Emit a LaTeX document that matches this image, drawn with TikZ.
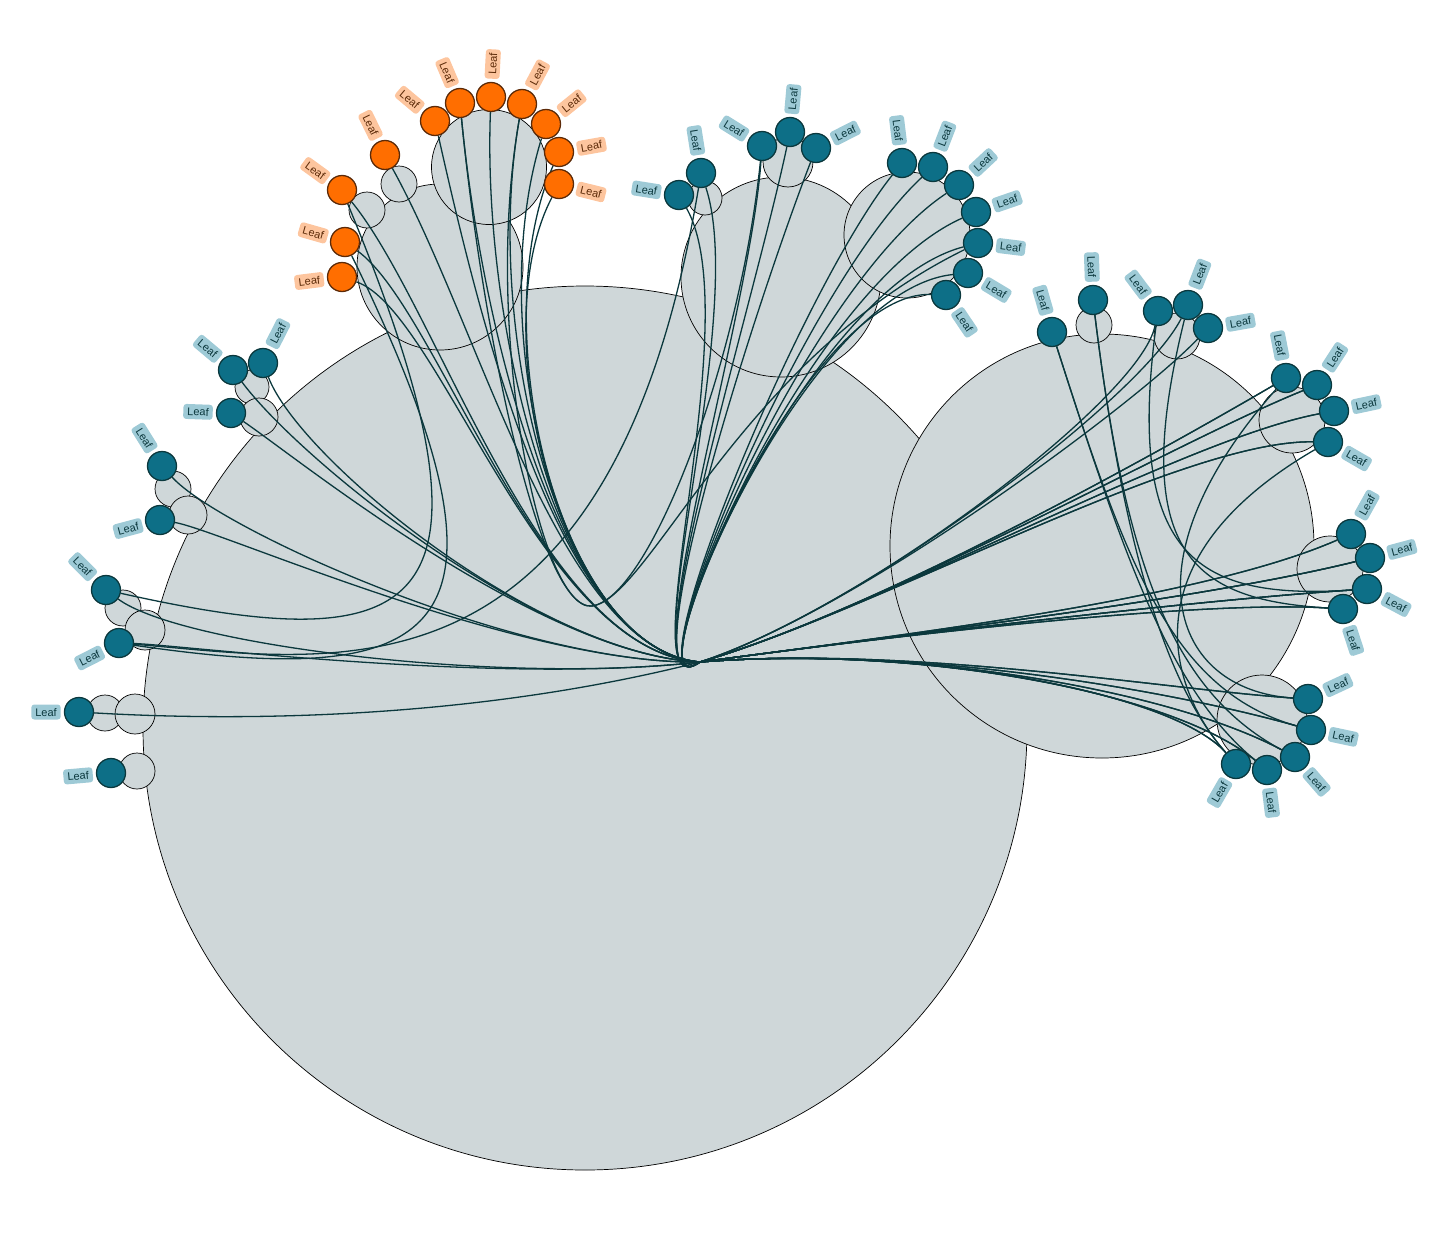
\documentclass[tikz,border=0pt]{standalone}
\usepackage{fontspec}
\setmainfont{Liberation Sans}
\usetikzlibrary{calc}
\pgfdeclarelayer{back}
\pgfdeclarelayer{wires}
\pgfsetlayers{back,wires,main}
\definecolor{pack}{HTML}{CFD7D9}
\definecolor{wire}{HTML}{0B383D}
\definecolor{leafteal}{HTML}{0D6F87}
\definecolor{leaforange}{HTML}{FF6E00}
\definecolor{tagteal}{HTML}{9ECAD6}
\definecolor{tagorange}{HTML}{FDC59E}
\definecolor{rimorange}{HTML}{5C2A08}
\tikzset{
  x=1pt, y=-1pt,
  bubble/.style={circle, draw=black, line width=0.7pt, fill=pack, inner sep=0pt, minimum size=#1pt},
  tleaf/.style={circle, draw=wire, line width=1.3pt, fill=leafteal, inner sep=0pt, minimum size=29pt},
  oleaf/.style={tleaf, draw=rimorange, fill=leaforange},
  tag/.style={rounded corners=3pt, inner xsep=4pt, inner ysep=3.5pt, text height=8pt, text depth=0pt, font=\fontsize{11}{12}\selectfont},
  ttag/.style={tag, fill=tagteal, text=wire},
  otag/.style={tag, fill=tagorange, text=rimorange},
  link/.style={draw=wire, line width=1.3pt},
}

\begin{document}
\begin{tikzpicture}
	\useasboundingbox (0,0) rectangle (1437,1258);

	% circles
	\begin{pgfonlayer}{back}
	\foreach \n/\x/\y/\d in {mainpack/585/728/884, rightpack/1102/546/424,
		orapack/440/267/166, toppack/781/277/200, toprpack/907/235/126, orbpack/489/167/115,
		so1/367/210/36, so2/399/184/36, sd1/705/198/34, sd2/788/162/50,
		sb1/1094/325/36, sb2/1177/336/46, sb3/1292/420/66, sb4/1330/569/66, sb5/1262/720/90,
		sl1/252/387/34, sl2/259/417/38, sl3/173/489/36, sl4/188/515/38, sl5/123/608/36,
		sl6/145/630/40, sl7/105/713/36, sl8/135/714/40, sl9/137/771/36}
		\node[bubble=\d] (\n) at (\x,\y) {};
	\end{pgfonlayer}

	% leaves
	\foreach \n/\x/\y/\a in {o1/342/277/173, o2/345/242/196, o3/342/190/216, o4/385/155/244,
		o5/435/121/220, o6/460/103/247, o7/491/97/273, o8/522/104/298, o9/546/124/321,
		o10/559/152/350, o11/559/184/14}{
		\pgfmathsetmacro\tagrot{cos(\a)<0 ? 180-\a : -\a}
		\node[oleaf] (\n) at (\x,\y) {};
		\node[otag, rotate=\tagrot] (\n-tag) at ($(\n)+(\a:33)$) {Leaf};
	}
	\foreach \n/\x/\y/\a in {d1/679/195/189, d2/701/173/261, d3/762/146/212, d4/790/132/275,
		d5/816/148/333, e1/902/163/263, e2/933/167/291, e3/959/185/317, e4/976/212/341,
		e5/978/243/7, e6/968/273/31, e7/946/295/56,
		b1/1052/332/254, b2/1093/300/268, b3/1158/311/233, b4/1188/305/291, b5/1208/328/350,
		b6/1286/378/259, b7/1317/385/303, b8/1334/411/348, b9/1328/442/30,
		b10/1351/534/299, b11/1370/558/345, b12/1367/589/28, b13/1343/609/72,
		b14/1308/699/335, b15/1311/730/12, b16/1295/757/49, b17/1267/770/83, b18/1236/764/120,
		l1/233/370/220, l2/263/363/297, l3/231/413/182, l4/162/466/238, l5/160/520/165,
		l6/106/590/225, l7/119/643/153, l8/79/712/180, l9/111/773/175}{
		\pgfmathsetmacro\tagrot{cos(\a)<0 ? 180-\a : -\a}
		\node[tleaf] (\n) at (\x,\y) {};
		\node[ttag, rotate=\tagrot] (\n-tag) at ($(\n)+(\a:33)$) {Leaf};
	}

	% links
	\begin{pgfonlayer}{wires}
	\coordinate (hub) at (700,662);
	\coordinate (bmid) at (1125,560);
	\coordinate (dip) at (592,606);
	\foreach \g/\ax/\ay/\bx/\by in {O/482/330/560/650, P/440/310/540/652, D/750/320/625/715,
		E/800/290/625/715, L/300/460/540/655, M/220/530/520/665, N/180/645/500/685,
		K/250/722/480/718, U/1180/440/880/610, R/1200/600/900/635, W/1170/690/910/645,
		V/1140/400/860/610}{
		\coordinate (\g-a) at (\ax,\ay);
		\coordinate (\g-b) at (\bx,\by);
	}
	\foreach \s/\g/\t/\h in {o1/P/b14/W, o2/P/b15/W, o3/P/b16/W,
		o4/O/b6/U, o5/O/b7/U, o6/O/b8/U, o7/O/b9/U, o8/O/b10/R, o9/O/b11/R, o10/O/b12/R, o11/O/b13/R,
		d1/D/b17/W, d2/D/b18/W, d3/D/b6/U, d4/D/b10/R, d5/D/b14/W,
		e1/E/b7/U, e2/E/b11/R, e3/E/b15/W, e4/E/b8/U, e5/E/b12/R, e6/E/b16/W, e7/E/b3/V,
		l1/L/b4/V, l2/L/b9/U, l3/L/b13/R, l4/M/b17/W, l5/M/b5/V, l6/N/b18/W, l7/N/b11/R, l8/K/b12/R}
		\draw[link] (\s) .. controls (\g-a) and (\g-b) .. (hub) .. controls (\h-b) and (\h-a) .. (\t);
	\foreach \s/\t/\h in {b1/b15/W, b1/b17/W, b2/b16/W, b2/b18/W, b3/b12/R, b4/b13/R, b6/b14/W, b9/b18/W}
		\draw[link] (\s) .. controls (bmid) and (\h-a) .. (\t);
	\foreach \s/\t in {o6/d3, o8/e5}
		\draw[link] (\s) .. controls (O-a) and (540,612) .. (dip) .. controls (650,598) and (740,360) .. (\t);
	\draw[link] (o2) .. controls (540,640) and (440,690) .. (l7);
	\draw[link] (o3) .. controls (520,620) and (420,660) .. (l6);
	\draw[link] (d2) .. controls (610,720) and (330,660) .. (l7);
	\end{pgfonlayer}
\end{tikzpicture}
\end{document}
